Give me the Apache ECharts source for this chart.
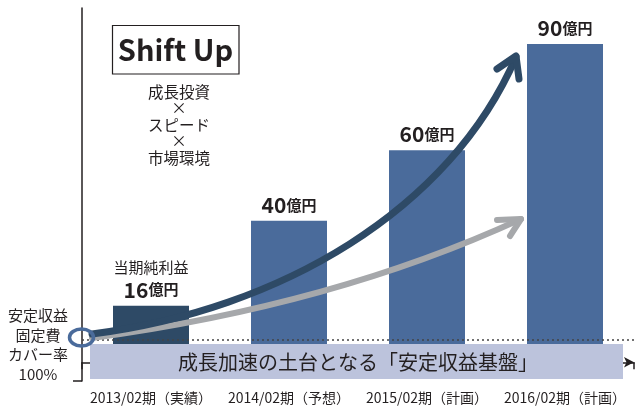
<!DOCTYPE html>
<html>
<head>
<meta charset="utf-8">
<script src="https://cdn.jsdelivr.net/npm/echarts@6/dist/echarts.min.js"></script>
<style>
  html, body { margin: 0; padding: 0; background: #fff; }
  #main { width: 638px; height: 408px; }
</style>
</head>
<body>
<div id="main"></div>
<script>
// 期ごとの当期純利益（億円）
const categories = ['2013/02期（実績）', '2014/02期（予想）', '2015/02期（計画）', '2016/02期（計画）'];
const profits = [16, 40, 60, 90];
const firstNote = '当期純利益';
// 安定収益で固定費をカバーできる水準
const coverLine = 6.5;

const FONT = '"Noto Sans CJK JP", "Noto Sans", sans-serif';
const INK = '#231f20';

const myChart = echarts.init(document.getElementById('main'));

const option = {
  animation: false,
  grid: { left: 82, right: 4, top: 8, bottom: 27 },
  xAxis: {
    type: 'category',
    data: categories,
    axisLine: {
      lineStyle: { color: INK, width: 1.5 },
      symbol: ['none', 'arrow'],
      symbolSize: [8, 10]
    },
    axisTick: { show: true, length: 7, lineStyle: { color: INK, width: 1.5 } },
    axisLabel: { color: INK, fontFamily: FONT, fontSize: 14, margin: 10, interval: 0, hideOverlap: false }
  },
  yAxis: {
    type: 'value',
    min: -5.3,
    max: 100.2,
    splitLine: { show: false },
    axisLabel: { show: false },
    axisLine: { show: true, lineStyle: { color: INK, width: 1.5 } },
    axisTick: { show: true, length: 9, customValues: [-5.3], lineStyle: { color: INK, width: 1.5 } }
  },
  series: [
    {
      type: 'bar',
      barWidth: 76,
      data: profits,
      itemStyle: {
        color: function (p) { return p.dataIndex === 0 ? '#2e4a66' : '#4a6b9b'; }
      },
      label: {
        show: true,
        position: 'top',
        distance: 5,
        fontFamily: FONT,
        formatter: function (p) {
          const s = '{n|' + p.value + '}{u|億円}';
          return p.dataIndex === 0 ? '{t|' + firstNote + '}\n' + s : s;
        },
        rich: {
          t: { fontFamily: FONT, fontSize: 15, color: INK, lineHeight: 22 },
          n: { fontFamily: FONT, fontSize: 21, fontWeight: 'bold', color: INK, lineHeight: 22 },
          u: { fontFamily: FONT, fontSize: 15, fontWeight: 'bold', color: INK, lineHeight: 22 }
        }
      },
      markLine: {
        silent: true,
        symbol: 'none',
        label: { show: false },
        lineStyle: { color: '#444', width: 1.5, type: [2, 3] },
        data: [{ yAxis: coverLine }]
      }
    }
  ],
  graphic: [
    // 安定収益基盤の帯
    {
      type: 'rect', z: 100,
      shape: { x: 90, y: 344, width: 533, height: 35 },
      style: { fill: '#bcc3dc' }
    },
    {
      type: 'text', z: 101, x: 358, y: 362,
      style: {
        text: '成長加速の土台となる「安定収益基盤」',
        font: '20px ' + FONT, fill: INK, align: 'center', verticalAlign: 'middle'
      }
    },
    // 矢印（濃）
    {
      type: 'bezierCurve', z: 102,
      shape: { x1: 92, y1: 334, cpx1: 280, cpy1: 310, cpx2: 450, cpy2: 210, x2: 516, y2: 57 },
      style: { stroke: '#2e4a66', lineWidth: 7, fill: null, lineCap: 'round' }
    },
    {
      type: 'polyline', z: 102,
      shape: { points: [[497, 69], [516, 56], [519, 79]] },
      style: { stroke: '#2e4a66', lineWidth: 7, fill: null, lineCap: 'round', lineJoin: 'round' }
    },
    // 矢印（灰）
    {
      type: 'bezierCurve', z: 101,
      shape: { x1: 92, y1: 338, cpx1: 333, cpy1: 305.5, x2: 521, y2: 219 },
      style: { stroke: '#a6a8ab', lineWidth: 6, fill: null, lineCap: 'round' }
    },
    {
      type: 'polyline', z: 101,
      shape: { points: [[497, 220], [521, 219], [510, 236]] },
      style: { stroke: '#a6a8ab', lineWidth: 6, fill: null, lineCap: 'round', lineJoin: 'round' }
    },
    // 100%ラインの丸
    {
      type: 'ellipse', z: 103,
      shape: { cx: 81.5, cy: 337.5, rx: 12, ry: 8.5 },
      style: { stroke: '#4a6b9b', lineWidth: 3.5, fill: null }
    },
    {
      type: 'text', z: 100, x: 38, y: 345,
      style: {
        text: '安定収益\n固定費\nカバー率\n100%',
        font: '15px ' + FONT, fill: INK, align: 'center', verticalAlign: 'middle', lineHeight: 19.5
      }
    },
    // Shift Up
    {
      type: 'rect', z: 100,
      shape: { x: 112.5, y: 25.5, width: 126.5, height: 48.5 },
      style: { stroke: INK, lineWidth: 1.2, fill: '#fff' }
    },
    {
      type: 'text', z: 101, x: 175.5, y: 50,
      style: {
        text: 'Shift Up',
        font: 'bold 29px ' + FONT, fill: INK, align: 'center', verticalAlign: 'middle'
      }
    },
    {
      type: 'text', z: 100, x: 179, y: 125,
      style: {
        text: '成長投資\n×\nスピード\n×\n市場環境',
        font: '15.5px ' + FONT, fill: INK, align: 'center', verticalAlign: 'middle', lineHeight: 16.5
      }
    }
  ]
};

myChart.setOption(option);
</script>
</body>
</html>
